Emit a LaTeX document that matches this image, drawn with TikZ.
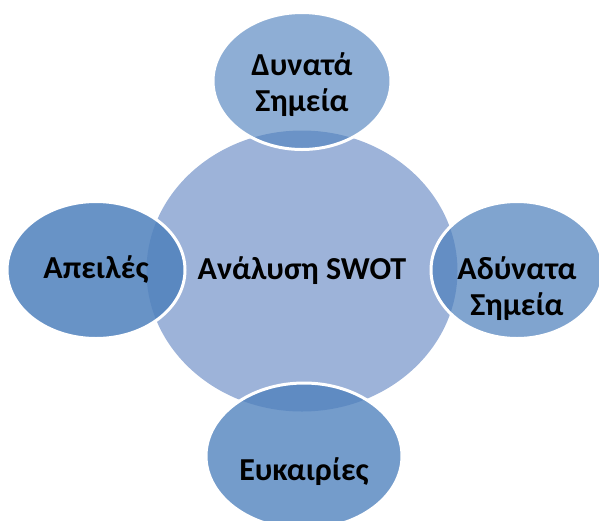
\documentclass[tikz,border=0pt]{standalone}
\usepackage{fontspec}
\setmainfont{Carlito}
\usepackage{tikz}
\usetikzlibrary{shapes.geometric}

\definecolor{swotback}{RGB}{157,179,217}
\definecolor{swotblue}{RGB}{79,129,189}

\tikzset{
  label text/.style={font=\fontsize{32}{36}\selectfont\bfseries, align=center},
  part/.style={ellipse, draw=white, line width=3pt, fill=swotblue, text opacity=1,
    inner sep=0pt, minimum width=178pt, minimum height=137pt, label text}
}

\begin{document}
\begin{tikzpicture}[x=1pt,y=-1pt]
  \useasboundingbox (0,0) rectangle (599,520);

  \node[ellipse, fill=swotback, inner sep=0pt, minimum width=311pt, minimum height=281pt,
    label text] (swot) at (302,271) {Ανάλυση SWOT};

  \node[part, fill opacity=0.64] (strengths) at (302,81) {};
  \node[label text] (strengthstext) at ([yshift=-4pt]strengths.center) {Δυνατά\\Σημεία};
  \node[part, fill opacity=0.72, minimum width=172pt] (weaknesses) at (517,270) {};
  \node[label text] (weaknessestext) at ([yshift=-19pt]weaknesses.center) {Αδύνατα\\Σημεία};
  \node[part, fill opacity=0.79, minimum width=196pt, minimum height=146pt] (opportunities) at (304,456) {};
  \node[label text] (opportunitiestext) at ([yshift=-16pt]opportunities.center) {Ευκαιρίες};
  \node[part, fill opacity=0.86] (threats) at (96,270) {Απειλές};
\end{tikzpicture}
\end{document}
